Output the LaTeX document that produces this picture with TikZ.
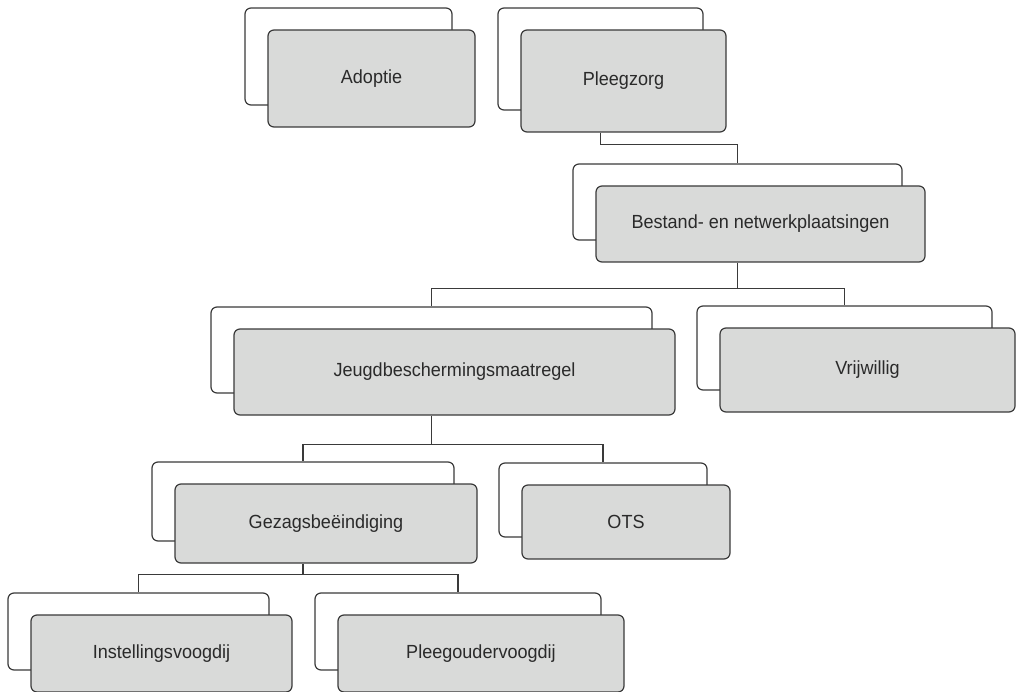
\documentclass[tikz,border=0pt]{standalone}
\usepackage{fontspec}
\setmainfont{Liberation Sans}[FakeStretch=0.95]
\usetikzlibrary{calc}
\definecolor{linec}{HTML}{3A3A3A}
\definecolor{fillc}{HTML}{D9DAD9}
\definecolor{textc}{HTML}{2A2A2A}
\tikzset{
  backbox/.style={draw=linec, line width=1.2pt, fill=white, rounded corners=6pt, inner sep=0pt},
  frontbox/.style={draw=linec, line width=1.2pt, fill=fillc, rounded corners=6pt, inner sep=0pt,
    text=textc, font=\fontsize{19}{22}\selectfont},
  conn/.style={draw=linec, line width=1.2pt}
}
% \pairbox{name}{cx}{cy}{w}{h}{text}
\newcommand{\pairbox}[6]{%
  \node[backbox, minimum width=#4pt, minimum height=#5pt] (#1-b) at (#2,#3) {};
  \node[frontbox, minimum width=#4pt, minimum height=#5pt] (#1) at ($(#2,#3)+(23,22)$) {#6};
}
\begin{document}
\begin{tikzpicture}[x=1pt, y=-1pt]
\useasboundingbox (0,0) rectangle (1016,692);

\pairbox{ad}{348.5}{56.5}{207}{97}{Adoptie}
\pairbox{pz}{600.5}{59}{205}{102}{Pleegzorg}
\pairbox{be}{737.5}{202}{329}{76}{Bestand- en netwerkplaatsingen}
\pairbox{jb}{431.5}{350}{441}{86}{Jeugdbeschermingsmaatregel}
\pairbox{vr}{844.5}{348}{295}{84}{Vrijwillig}
\pairbox{gz}{303}{501.5}{302}{79}{Gezagsbeëindiging}
\pairbox{ot}{603}{500}{208}{74}{OTS}
\pairbox{in}{138.5}{631.5}{261}{77}{Instellingsvoogdij}
\pairbox{po}{458}{631.5}{286}{77}{Pleegoudervoogdij}

% connectors
\draw[conn] (pz-b.center |- pz.south) -- ++(0,12) -| (be-b.north);

\draw[conn] (be-b.center |- be.south) -- ++(0,26) coordinate (j1);
\draw[conn] (j1) -| (jb-b.north);
\draw[conn] (j1) -| (vr-b.north);

\draw[conn] (jb-b.center |- jb.south) -- ++(0,29) coordinate (j2);
\draw[conn] (j2) -| (gz-b.north);
\draw[conn] (j2) -| (ot-b.north);

\draw[conn] (gz-b.center |- gz.south) -- ++(0,10.5) coordinate (j3);
\draw[conn] (j3) -| (in-b.north);
\draw[conn] (j3) -| (po-b.north);
\end{tikzpicture}
\end{document}
